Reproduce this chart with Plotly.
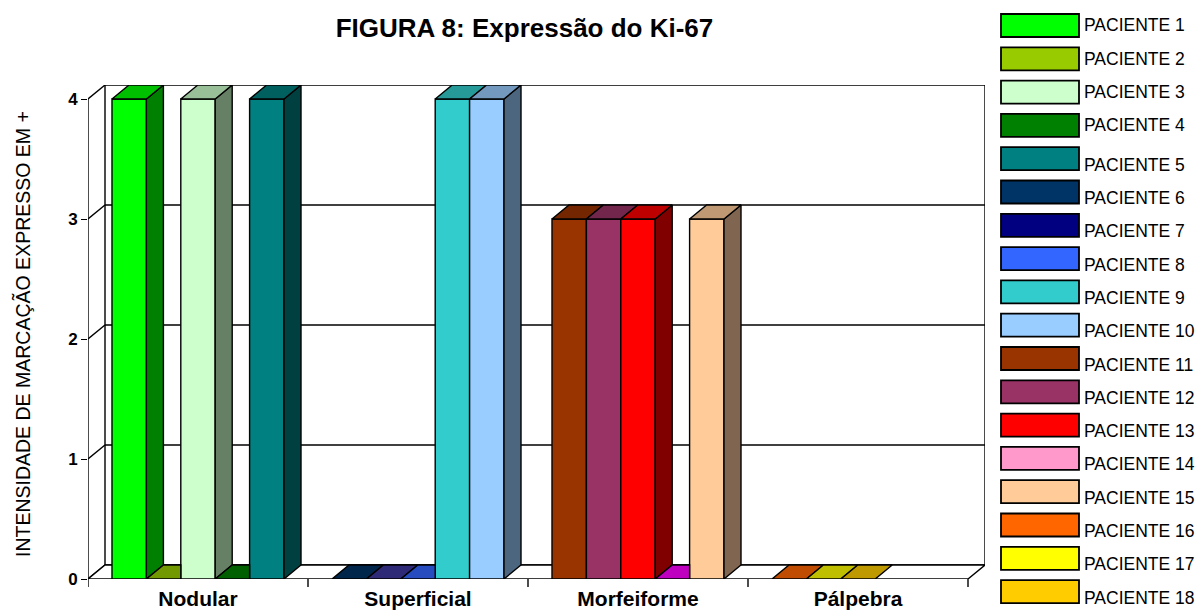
import plotly.graph_objects as go

# ---------------- data ----------------
categories = ["Nodular", "Superficial", "Morfeiforme", "Pálpebra"]
patients = [f"PACIENTE {i}" for i in range(1, 19)]
patient_category = ["Nodular"] * 5 + ["Superficial"] * 5 + ["Morfeiforme"] * 5 + ["Pálpebra"] * 3
values = [4, 0, 4, 0, 4,
          0, 0, 0, 4, 4,
          3, 3, 3, 0, 3,
          0, 0, 0]
y_ticks = [0, 1, 2, 3, 4]

# ---------------- styles ----------------
front_colors = ["#00FF00", "#99CC00", "#CCFFCC", "#008000", "#008080", "#003366",
                "#000080", "#3366FF", "#33CCCC", "#99CCFF", "#993300", "#993366",
                "#FF0000", "#FF99CC", "#FFCC99", "#FF6600", "#FFFF00", "#FFCC00"]
top_colors = ["#00BF00", "#739900", "#99BF99", "#006000", "#006060", "#00264C",
              "#2E2A78", "#264CBF", "#269999", "#7399BF", "#732600", "#73264C",
              "#BF0000", "#BF00BF", "#BF9973", "#BF4C00", "#BFBF00", "#BF9900"]
side_colors = ["#008000", "#4D6600", "#668066", "#004000", "#004040", "#001A33",
               "#000040", "#1A3380", "#1A6666", "#4D6680", "#4D1A00", "#4D1A33",
               "#800000", "#804D66", "#806650", "#803300", "#808000", "#806600"]

FONT = "Liberation Sans, Arial, sans-serif"
W_PX, H_PX = 1198, 613
L, R_EDGE, T, B_EDGE = 88, 985, 85, 579      # plot area in pixels
CAT_PX = 220.0                                 # pixels per category
UNIT_PX = 120.0                                # pixels per value unit
DX = 17 / CAT_PX                               # 3-D depth, x (data units)
DY = 14 / UNIT_PX                              # 3-D depth, y (data units)
SLOT = 34.4 / CAT_PX                           # bar slot width
NSLOT = 5
LINE_W = 1.4

cat_index = {c: i for i, c in enumerate(categories)}
# slot of each patient inside its category (order of appearance)
slots, counter = [], {}
for c in patient_category:
    slots.append(counter.get(c, 0))
    counter[c] = counter.get(c, 0) + 1

fig = go.Figure()

# front faces (real bars)
for i, p in enumerate(patients):
    c = cat_index[patient_category[i]]
    fig.add_trace(go.Bar(
        x=[c], y=[values[i]], name=p,
        offset=-NSLOT / 2 * SLOT + slots[i] * SLOT, width=SLOT,
        marker=dict(color=front_colors[i], line=dict(color="black", width=LINE_W)),
        showlegend=False, hoverinfo="name+y"))

# 3-D top and side faces, derived from the same values
def neighbour(i, step):
    j = i + step
    if 0 <= j < len(patients) and patient_category[j] == patient_category[i] \
            and slots[j] == slots[i] + step:
        return values[j]
    return None

def poly(xs, ys, color):
    fig.add_trace(go.Scatter(
        x=xs + [xs[0]], y=ys + [ys[0]], mode="lines", fill="toself",
        fillcolor=color, line=dict(color="black", width=LINE_W),
        showlegend=False, hoverinfo="skip"))

for i in range(len(patients)):
    c = cat_index[patient_category[i]]
    v = values[i]
    x0 = c - NSLOT / 2 * SLOT + slots[i] * SLOT
    x1 = x0 + SLOT
    nxt = neighbour(i, 1)
    # right side face
    low = nxt if nxt is not None else 0
    if v > low:
        poly([x1, x1, x1 + DX, x1 + DX], [low, v, v + DY, low + DY], side_colors[i])
    # top face
    if nxt is not None and nxt > v:
        poly([x0, x1, x1, x0 + DX], [v, v, v + DY, v + DY], top_colors[i])
    else:
        poly([x0, x1, x1 + DX, x0 + DX], [v, v, v + DY, v + DY], top_colors[i])

# ---------------- walls / floor / grid ----------------
xl, xr = -0.5, len(categories) - 0.5
ymax = max(y_ticks)
shapes = []
ln = dict(color="black", width=LINE_W)
# back wall
shapes.append(dict(type="rect", xref="x", yref="y", x0=xl + DX, x1=xr + DX,
                   y0=DY, y1=ymax + DY, line=ln, fillcolor="white", layer="below"))
# back wall gridlines and left wall diagonals
for v in y_ticks:
    if 0 < v < ymax:
        shapes.append(dict(type="line", xref="x", yref="y", x0=xl + DX, x1=xr + DX,
                           y0=v + DY, y1=v + DY, line=ln, layer="below"))
    shapes.append(dict(type="line", xref="x", yref="y", x0=xl, x1=xl + DX,
                       y0=v, y1=v + DY, line=ln, layer="below"))
# front vertical axis line
shapes.append(dict(type="line", xref="x", yref="y", x0=xl, x1=xl, y0=0, y1=ymax,
                   line=ln, layer="below"))
# floor
shapes.append(dict(type="path", xref="x", yref="y",
                   path=f"M{xl},0 L{xr},0 L{xr + DX},{DY} L{xl + DX},{DY} Z",
                   line=ln, fillcolor="white", layer="below"))
# category boundary ticks
for k in range(len(categories) + 1):
    xb = xl + k
    shapes.append(dict(type="line", xref="x", yref="paper", x0=xb, x1=xb,
                       y0=0, y1=-8 / (B_EDGE - T), line=ln))

# ---------------- manual legend ----------------
def px_x(px):
    return (px - L) / (R_EDGE - L)

def px_y(py):
    return (B_EDGE - py) / (B_EDGE - T)

annotations = []
for i, p in enumerate(patients):
    top = 14 + 33.3 * i
    shapes.append(dict(type="rect", xref="paper", yref="paper",
                       x0=px_x(1001), x1=px_x(1079), y0=px_y(top), y1=px_y(top + 23),
                       fillcolor=front_colors[i], line=dict(color="black", width=1.8)))
    ty = top + 11.5 + (0 if i < 4 else 6)
    annotations.append(dict(xref="paper", yref="paper", x=px_x(1082), y=px_y(ty),
                            xanchor="left", yanchor="middle", text=p, showarrow=False,
                            font=dict(family=FONT, size=17.5, color="black")))

# y axis title
annotations.append(dict(xref="paper", yref="paper", x=px_x(22), y=px_y(334),
                        xanchor="center", yanchor="middle", textangle=-90,
                        text="INTENSIDADE DE MARCAÇÃO EXPRESSO EM +", showarrow=False,
                        font=dict(family=FONT, size=19.5, color="black")))

fig.update_layout(
    width=W_PX, height=H_PX,
    margin=dict(l=L, r=W_PX - R_EDGE, t=T, b=H_PX - B_EDGE, pad=0, autoexpand=False),
    paper_bgcolor="white", plot_bgcolor="white",
    barmode="overlay",
    showlegend=False,
    title=dict(text="<b>FIGURA 8: Expressão do Ki-67</b>", xref="container", yref="container",
               x=524.5 / W_PX, y=1 - 28 / H_PX, xanchor="center", yanchor="middle",
               font=dict(family=FONT, size=26, color="black")),
    xaxis=dict(range=[xl, xr + DX], tickvals=list(range(len(categories))),
               ticktext=[f"<b>{c}</b>" for c in categories], ticks="",
               showgrid=False, zeroline=False, showline=False, automargin=False,
               tickfont=dict(family=FONT, size=21, color="black"),
               ticklabelstandoff=5, fixedrange=True),
    yaxis=dict(range=[0, ymax + DY], tickvals=y_ticks,
               ticktext=[f"<b>{v}</b>" for v in y_ticks], automargin=False,
               ticks="outside", ticklen=6, tickwidth=LINE_W, tickcolor="black",
               showgrid=False, zeroline=False, showline=False,
               tickfont=dict(family=FONT, size=17, color="black"), fixedrange=True),
    shapes=shapes,
    annotations=annotations,
)

fig.write_html("out.html")
